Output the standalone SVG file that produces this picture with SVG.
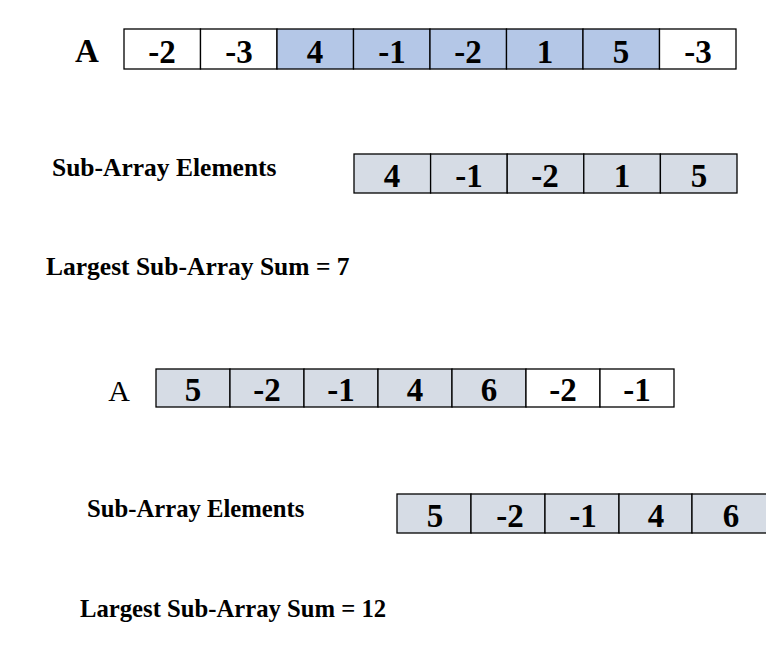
<svg xmlns="http://www.w3.org/2000/svg" width="766" height="661" viewBox="0 0 766 661">
<style>
.c{stroke:#000;stroke-width:1.3}
.w{fill:#fff}
.b{fill:#b4c7e7}
.g{fill:#d6dce5}
.n{font-family:"Liberation Serif",serif;font-weight:bold;font-size:33px;text-anchor:middle}
.l{font-family:"Liberation Serif",serif;font-weight:bold;font-size:25.5px}
.l2{font-family:"Liberation Serif",serif;font-weight:bold;font-size:24.7px}
</style>
<rect width="766" height="661" fill="#fff"/>
<g id="array1">
<text class="n" x="87" y="62" font-size="32">A</text>
<rect class="c w" x="124" y="29" width="76.5" height="40"/><text class="n" x="162" y="62.5">-2</text>
<rect class="c w" x="200.5" y="29" width="76.5" height="40"/><text class="n" x="239" y="62.5">-3</text>
<rect class="c b" x="277" y="29" width="76.5" height="40"/><text class="n" x="315" y="62.5">4</text>
<rect class="c b" x="353.5" y="29" width="76.5" height="40"/><text class="n" x="392" y="62.5">-1</text>
<rect class="c b" x="430" y="29" width="76.5" height="40"/><text class="n" x="468" y="62.5">-2</text>
<rect class="c b" x="506.5" y="29" width="76.5" height="40"/><text class="n" x="545" y="62.5">1</text>
<rect class="c b" x="583" y="29" width="76.5" height="40"/><text class="n" x="621" y="62.5">5</text>
<rect class="c w" x="659.5" y="29" width="76.5" height="40"/><text class="n" x="698" y="62.5">-3</text>
</g>
<g id="sub1">
<text class="l" x="52" y="176">Sub-Array Elements</text>
<rect class="c g" x="354" y="154" width="76.6" height="39"/><text class="n" x="392" y="187">4</text>
<rect class="c g" x="430.6" y="154" width="76.6" height="39"/><text class="n" x="469" y="187">-1</text>
<rect class="c g" x="507.2" y="154" width="76.6" height="39"/><text class="n" x="545" y="187">-2</text>
<rect class="c g" x="583.8" y="154" width="76.6" height="39"/><text class="n" x="622" y="187">1</text>
<rect class="c g" x="660.4" y="154" width="76.6" height="39"/><text class="n" x="699" y="187">5</text>
</g>
<g id="sum1"><text class="l" x="46" y="275">Largest Sub-Array Sum = 7</text></g>
<g id="array2">
<text x="119" y="401" font-family="Liberation Serif,serif" font-size="30" text-anchor="middle">A</text>
<rect class="c g" x="156" y="369" width="74" height="38"/><text class="n" x="193" y="401">5</text>
<rect class="c g" x="230" y="369" width="74" height="38"/><text class="n" x="267" y="401">-2</text>
<rect class="c g" x="304" y="369" width="74" height="38"/><text class="n" x="341" y="401">-1</text>
<rect class="c g" x="378" y="369" width="74" height="38"/><text class="n" x="415" y="401">4</text>
<rect class="c g" x="452" y="369" width="74" height="38"/><text class="n" x="489" y="401">6</text>
<rect class="c w" x="526" y="369" width="74" height="38"/><text class="n" x="563" y="401">-2</text>
<rect class="c w" x="600" y="369" width="74" height="38"/><text class="n" x="637" y="401">-1</text>
</g>
<g id="sub2">
<text class="l2" x="87" y="517">Sub-Array Elements</text>
<rect class="c g" x="397" y="494" width="74" height="39"/><text class="n" x="435" y="527">5</text>
<rect class="c g" x="471" y="494" width="74" height="39"/><text class="n" x="510" y="527">-2</text>
<rect class="c g" x="545" y="494" width="74" height="39"/><text class="n" x="583" y="527">-1</text>
<rect class="c g" x="619" y="494" width="73" height="39"/><text class="n" x="656" y="527">4</text>
<rect class="c g" x="692" y="494" width="80" height="39"/><text class="n" x="731" y="527">6</text>
</g>
<g id="sum2"><text class="l2" x="80" y="617">Largest Sub-Array Sum = 12</text></g>
</svg>
